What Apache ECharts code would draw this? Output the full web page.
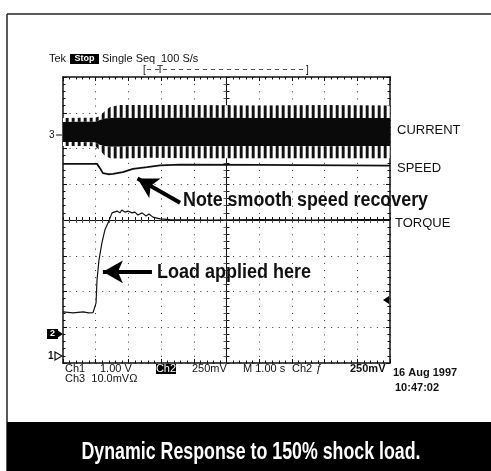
<!DOCTYPE html>
<html>
<head>
<meta charset="utf-8">
<script src="https://cdn.jsdelivr.net/npm/echarts@6/dist/echarts.min.js"></script>
<style>
html,body{margin:0;padding:0;background:#fff;}
#main{width:491px;height:471px;}
</style>
</head>
<body>
<div id="main"></div>
<script>
// time in seconds (M 1.00 s/div), levels in screen divisions (centre = 0)
const speedTime = [0, 1.04, 1.13, 1.22, 1.38, 1.53, 1.83, 2.14, 2.57, 2.97, 3.58, 6, 10]
const speedLevel = [1.57, 1.57, 1.45, 1.31, 1.28, 1.29, 1.34, 1.43, 1.48, 1.53, 1.55, 1.54, 1.52]

const torqueTime = [0, 0.30, 0.62, 0.78, 0.92, 0.98, 1.01, 1.04, 1.10, 1.19, 1.28, 1.38, 1.50, 1.65, 1.74, 1.80, 1.90, 1.99, 2.11, 2.20, 2.29, 2.42, 2.54, 2.63, 2.75, 2.84, 2.97, 3.27, 4.5, 6, 7.5, 9, 10]
const torqueLevel = [-2.57, -2.60, -2.57, -2.60, -2.59, -2.60, -2.32, -1.68, -1.12, -0.64, -0.28, -0.08, 0.20, 0.25, 0.20, 0.28, 0.22, 0.25, 0.20, 0.22, 0.14, 0.20, 0.11, 0.17, 0.08, 0.06, 0.03, 0.01, 0.0, 0.01, 0.0, 0.01, 0.01]

// current trace envelope: spike tips, solid band top/bottom, spike troughs
const currentTime = [0, 0.5, 0.98, 1.13, 1.28, 1.44, 1.74, 2.05, 2.66, 4, 6, 8, 10]
const currentPeak = [2.85, 2.86, 2.86, 2.90, 3.05, 3.16, 3.22, 3.22, 3.22, 3.22, 3.20, 3.22, 3.20]
const currentTop = [2.74, 2.75, 2.75, 2.80, 2.84, 2.85, 2.86, 2.85, 2.85, 2.86, 2.85, 2.85, 2.85]
const currentBottom = [2.18, 2.18, 2.17, 2.10, 2.06, 2.05, 2.05, 2.06, 2.06, 2.06, 2.07, 2.06, 2.07]
const currentTrough = [2.07, 2.07, 2.06, 1.95, 1.80, 1.73, 1.72, 1.73, 1.74, 1.73, 1.73, 1.73, 1.73]

// annotation arrows [tail, tip] in (s, div)
const arrows = [
  [[3.58, 0.48], [2.28, 1.16]],
  [[2.72, -1.45], [1.22, -1.45]]
]

const chart = echarts.init(document.getElementById('main'), null, {renderer: 'canvas'})

const G = {left: 63, top: 77, width: 327, height: 286}
const INK = '#111'

// vertical comb used for the spiky fringe of the current trace
const comb = document.createElement('canvas')
comb.width = 6; comb.height = 4
const cc = comb.getContext('2d')
cc.fillStyle = '#fff'; cc.fillRect(0, 0, 6, 4)
cc.fillStyle = '#111'; cc.fillRect(0, 0, 2, 4)
cc.fillStyle = '#666'; cc.fillRect(2, 0, 1, 4)
cc.fillStyle = '#bbb'; cc.fillRect(5, 0, 1, 4)
const combFill = {image: comb, repeat: 'repeat'}

const measure = document.createElement('canvas').getContext('2d')
function fitScale(text, font, width) {
  measure.font = font
  return width / measure.measureText(text).width
}

function axis(min, max, extra) {
  return Object.assign({
    type: 'value', min: min, max: max, interval: 1,
    axisLabel: {show: false},
    axisLine: {show: true, onZero: false, lineStyle: {color: INK, width: 1.5}},
    axisTick: {show: true, inside: true, length: 4, lineStyle: {color: INK, width: 1}},
    minorTick: {show: true, splitNumber: 5, length: 2.5, lineStyle: {color: INK, width: 1}},
    splitLine: {show: false}
  }, extra || {})
}

function band(api, upper, lower) {
  const pts = []
  for (let i = 0; i < currentTime.length; i++) pts.push(api.coord([currentTime[i], upper[i]]))
  for (let i = currentTime.length - 1; i >= 0; i--) pts.push(api.coord([currentTime[i], lower[i]]))
  return pts
}

const small = '11px "Liberation Sans", Arial, sans-serif'
const smallBold = 'bold 11px "Liberation Sans", Arial, sans-serif'
const label = '13px "Liberation Sans", Arial, sans-serif'
const note = 'bold 20px "Liberation Sans Narrow", "Liberation Sans", Arial, sans-serif'
const banner = 'bold 24px "Liberation Sans Narrow", "Liberation Sans", Arial, sans-serif'

function txt(x, y, text, font, extra) {
  return Object.assign({type: 'text', x: x, y: y, z: 10,
    style: {text: text, font: font, fill: INK, textVerticalAlign: 'middle'}}, extra || {})
}

const noteText = 'Note smooth speed recovery'
const loadText = 'Load applied here'
const bannerText = 'Dynamic Response to 150% shock load.'

const option = {
  backgroundColor: '#fff',
  animation: false,
  grid: {left: G.left, top: G.top, width: G.width, height: G.height, show: false, outerBoundsMode: 'none'},
  xAxis: [
    axis(0, 10, {position: 'bottom', splitLine: {show: true, lineStyle: {color: '#333', width: 1, type: [1, 6.15]}}}),
    axis(0, 10, {position: 'top'}),
    axis(0, 10, {position: 'bottom', offset: -G.height / 2, axisLine: {show: true, onZero: false, lineStyle: {color: INK, width: 1}}, axisTick: {show: true, inside: true, length: 3}, minorTick: {show: true, splitNumber: 5, length: 3}}),
    axis(0, 10, {position: 'bottom', offset: -G.height / 2, axisLine: {show: false}, axisTick: {show: true, inside: false, length: 3}, minorTick: {show: true, splitNumber: 5, length: 3}})
  ],
  yAxis: [
    axis(-4, 4, {position: 'left', splitLine: {show: true, lineStyle: {color: '#333', width: 1, type: [1, 5.54]}}}),
    axis(-4, 4, {position: 'right'}),
    axis(-4, 4, {position: 'left', offset: -G.width / 2, axisLine: {show: true, onZero: false, lineStyle: {color: INK, width: 1}}, axisTick: {show: true, inside: true, length: 3}, minorTick: {show: true, splitNumber: 5, length: 3}}),
    axis(-4, 4, {position: 'left', offset: -G.width / 2, axisLine: {show: false}, axisTick: {show: true, inside: false, length: 3}, minorTick: {show: true, splitNumber: 5, length: 3}})
  ],
  series: [
    {
      name: 'Current', type: 'custom', data: [[0, 0]], silent: true, z: 3,
      renderItem: function (params, api) {
        return {type: 'group', children: [
          {type: 'polygon', shape: {points: band(api, currentPeak, currentTop)}, style: {fill: combFill}},
          {type: 'polygon', shape: {points: band(api, currentTop, currentBottom)}, style: {fill: '#0a0a0a'}},
          {type: 'polygon', shape: {points: band(api, currentBottom, currentTrough)}, style: {fill: combFill}}
        ]}
      }
    },
    {
      name: 'Speed', type: 'line', showSymbol: false, silent: true, z: 4,
      data: speedTime.map((t, i) => [t, speedLevel[i]]),
      lineStyle: {color: INK, width: 1.8}
    },
    {
      name: 'Torque', type: 'line', showSymbol: false, silent: true, z: 4,
      data: torqueTime.map((t, i) => [t, torqueLevel[i]]),
      lineStyle: {color: INK, width: 1.2},
      markLine: {
        silent: true, animation: false, symbol: ['none', 'arrow'], symbolSize: [17, 20],
        label: {show: false},
        lineStyle: {color: '#000', width: 4, type: 'solid'},
        data: arrows.map(a => [{coord: a[0]}, {coord: a[1]}])
      }
    }
  ],
  graphic: [
    // outer frame and caption band
    {type: 'line', shape: {x1: 7, y1: 14, x2: 491, y2: 14}, style: {stroke: '#222', lineWidth: 1.5}},
    {type: 'line', shape: {x1: 7, y1: 14, x2: 7, y2: 471}, style: {stroke: '#222', lineWidth: 1.5}},
    {type: 'rect', shape: {x: 7, y: 422, width: 484, height: 49}, style: {fill: '#000'}},
    txt(251, 452, bannerText, banner, {scaleX: fitScale(bannerText, banner, 339), style: {text: bannerText, font: banner, fill: '#fff', textAlign: 'center', textVerticalAlign: 'middle'}}),

    // scope header
    txt(49, 59, 'Tek', small),
    {type: 'rect', shape: {x: 70, y: 54, width: 29, height: 10}, style: {fill: '#000'}, z: 9},
    txt(84.5, 59, 'Stop', 'bold 9px "Liberation Sans", Arial, sans-serif', {style: {text: 'Stop', font: 'bold 9px "Liberation Sans", Arial, sans-serif', fill: '#fff', textAlign: 'center', textVerticalAlign: 'middle'}}),
    txt(102, 59, 'Single Seq', small),
    txt(161, 59, '100 S/s', small),
    {type: 'line', shape: {x1: 147, y1: 69.5, x2: 306, y2: 69.5}, style: {stroke: '#555', lineWidth: 1, lineDash: [4, 4]}},
    txt(143, 70, '[', '10px "Liberation Sans", Arial, sans-serif'),
    txt(157, 70, 'T', '10px "Liberation Sans", Arial, sans-serif'),
    txt(306, 70, ']', '10px "Liberation Sans", Arial, sans-serif'),

    // channel ground markers
    txt(49, 135, '3', '10px "Liberation Sans", Arial, sans-serif'),
    {type: 'line', shape: {x1: 56, y1: 135, x2: 62, y2: 135}, style: {stroke: INK, lineWidth: 1}},
    {type: 'rect', shape: {x: 47, y: 329, width: 11, height: 10}, style: {fill: '#000'}},
    txt(52.5, 334, '2', 'bold 9px "Liberation Sans", Arial, sans-serif', {style: {text: '2', font: 'bold 9px "Liberation Sans", Arial, sans-serif', fill: '#fff', textAlign: 'center', textVerticalAlign: 'middle'}}),
    {type: 'polygon', shape: {points: [[57, 330], [63, 334], [57, 338]]}, style: {fill: '#000'}},
    txt(48, 356, '1', 'bold 10px "Liberation Sans", Arial, sans-serif'),
    {type: 'polygon', shape: {points: [[55, 352], [62, 356], [55, 360]]}, style: {fill: 'none', stroke: INK, lineWidth: 1.2}},
    {type: 'polygon', shape: {points: [[383, 300], [389, 296], [389, 304]]}, style: {fill: '#000'}},

    // trace labels
    txt(397, 130, 'CURRENT', label),
    txt(397, 168, 'SPEED', label),
    txt(395, 223, 'TORQUE', label),

    // annotations
    txt(183, 200, noteText, note, {scaleX: fitScale(noteText, note, 245)}),
    txt(157, 272, loadText, note, {scaleX: fitScale(loadText, note, 154)}),

    // scope readout
    txt(65, 369, 'Ch1', small),
    txt(100, 369, '1.00 V', small),
    {type: 'rect', shape: {x: 156, y: 364, width: 20, height: 10}, style: {fill: '#000'}, z: 9},
    txt(166, 369, 'Ch2', small, {style: {text: 'Ch2', font: small, fill: '#fff', textAlign: 'center', textVerticalAlign: 'middle'}}),
    txt(192, 369, '250mV', small),
    txt(243, 369, 'M 1.00 s', small),
    txt(292, 369, 'Ch2', small),
    txt(316, 369, '\u0192', small),
    txt(350, 369, '250mV', smallBold),
    txt(65, 379, 'Ch3  10.0mV\u03a9', small),
    txt(393, 373, '16 Aug 1997', smallBold),
    txt(395, 388, '10:47:02', smallBold)
  ]
}

chart.setOption(option)
</script>
</body>
</html>
